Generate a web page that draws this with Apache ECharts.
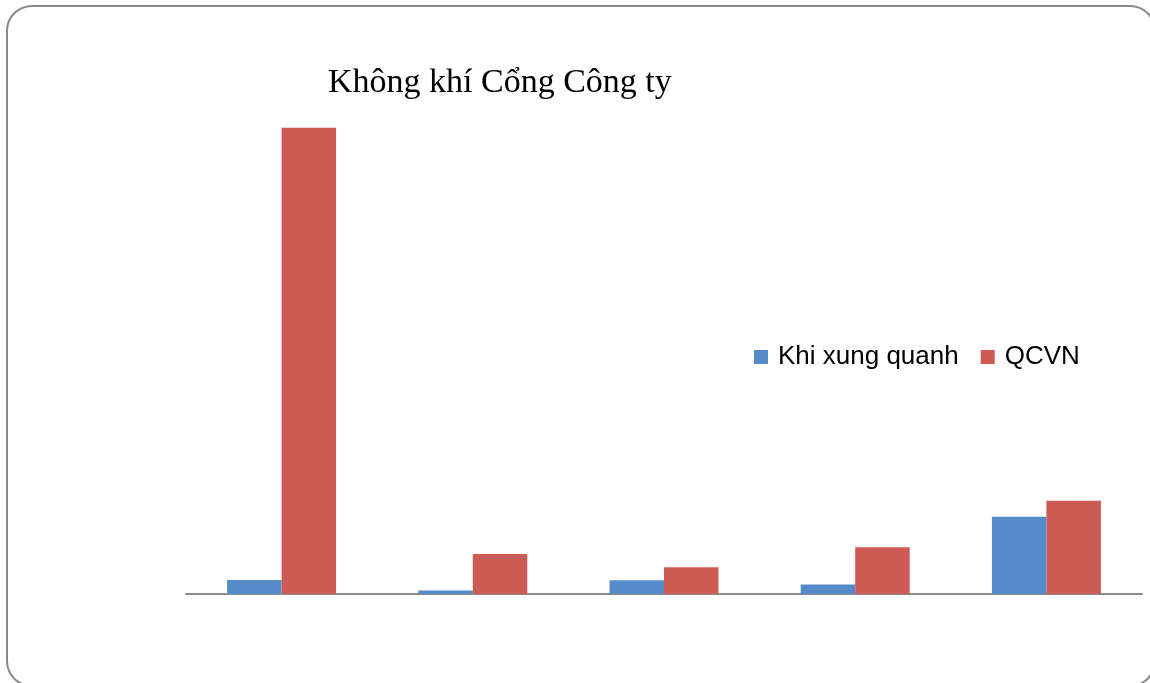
<!DOCTYPE html>
<html>
<head>
<meta charset="utf-8">
<title>Không khí Cổng Công ty</title>
<script src="https://cdn.jsdelivr.net/npm/echarts@6/dist/echarts.min.js"></script>
<style>
  html, body { margin: 0; padding: 0; background: #ffffff; }
  #chart { width: 1150px; height: 683px; }
</style>
</head>
<body>
<div id="chart"></div>
<script>
// Measurement points (category names are not shown on the axis)
const categories = ['1', '2', '3', '4', '5'];
// Measured ambient values
const khiXungQuanh = [10.5, 2.6, 10.3, 7.2, 58];
// Regulatory limits (QCVN)
const qcvn = [350, 30, 20, 35, 70];
const seriesNames = ['Khi xung quanh', 'QCVN'];

const chart = echarts.init(document.getElementById('chart'), null, { renderer: 'canvas' });

chart.setOption({
  backgroundColor: '#ffffff',
  animation: false,
  title: {
    text: 'Không khí Cổng Công ty',
    left: 323,
    top: 61,
    textStyle: {
      fontFamily: '"Liberation Serif", "Times New Roman", serif',
      fontSize: 34,
      fontWeight: 'normal',
      color: '#000000'
    }
  },
  legend: {
    data: seriesNames,
    left: 749,
    top: 339,
    icon: 'rect',
    itemWidth: 14,
    itemHeight: 14,
    itemGap: 22,
    textStyle: {
      fontFamily: '"Liberation Sans", Arial, sans-serif',
      fontSize: 26,
      color: '#000000',
      padding: [0, 0, 0, 5]
    }
  },
  grid: {
    left: 186,
    right: 8,
    top: 61,
    bottom: 89
  },
  xAxis: {
    type: 'category',
    data: categories,
    axisLine: { show: true, lineStyle: { color: '#8c8c8c', width: 2 } },
    axisTick: { show: false },
    axisLabel: { show: false },
    splitLine: { show: false }
  },
  yAxis: {
    type: 'value',
    min: 0,
    max: 400,
    show: false,
    splitLine: { show: false }
  },
  series: [
    {
      name: seriesNames[0],
      type: 'bar',
      data: khiXungQuanh,
      barGap: '0%',
      barCategoryGap: '43%',
      itemStyle: { color: '#568BC9' }
    },
    {
      name: seriesNames[1],
      type: 'bar',
      data: qcvn,
      barGap: '0%',
      barCategoryGap: '43%',
      itemStyle: { color: '#CC5B56' }
    }
  ],
  graphic: [
    {
      type: 'rect',
      silent: true,
      z: -10,
      shape: { x: 7, y: 6, width: 1148, height: 680, r: 25 },
      style: { fill: 'none', stroke: '#8a8a8a', lineWidth: 2 }
    }
  ]
});
</script>
</body>
</html>
